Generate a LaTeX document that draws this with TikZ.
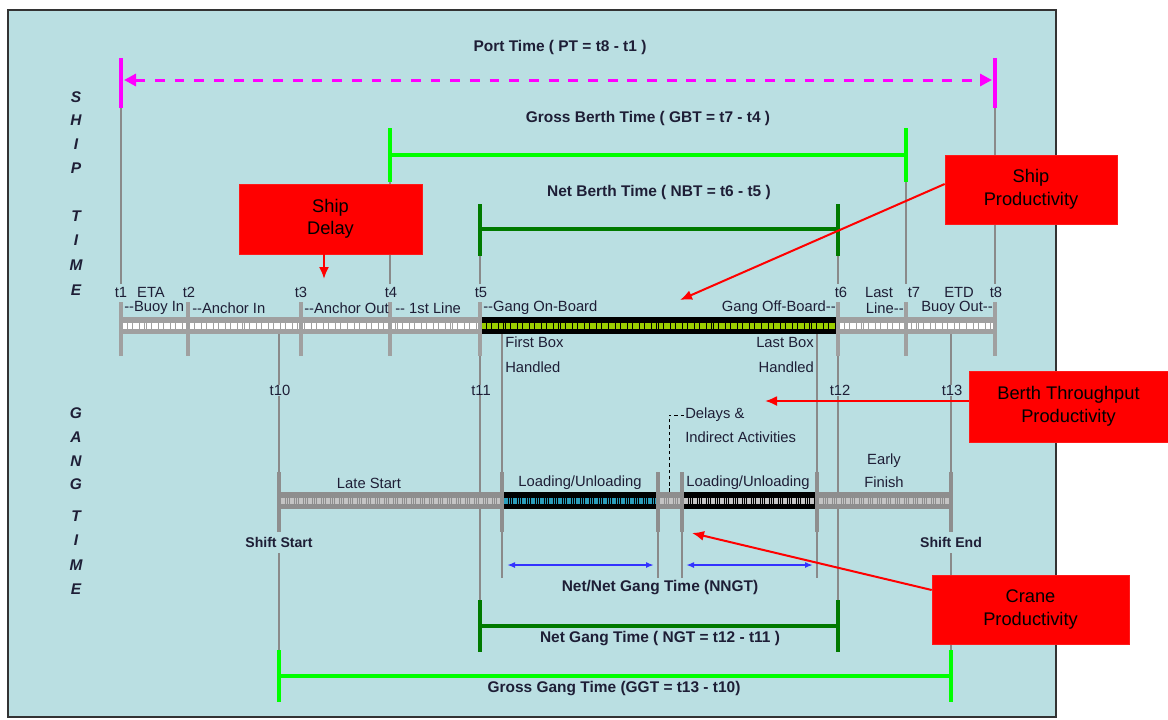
\documentclass[tikz,border=0pt]{standalone}
\usepackage{fontspec}
\setmainfont{Liberation Sans}
\usetikzlibrary{positioning, arrows.meta, calc}
\definecolor{panelblue}{HTML}{BADFE2}
\definecolor{inkblue}{HTML}{1E1E36}
\definecolor{portmag}{HTML}{FF00FF}
\definecolor{grossgreen}{HTML}{00FF00}
\definecolor{netgreen}{HTML}{007A00}
\definecolor{barfill}{HTML}{A0A0A0}
\definecolor{gangfill}{HTML}{8E8E8E}
\definecolor{ganglight}{HTML}{C4C4C4}
\definecolor{shipgreen}{HTML}{9ACD00}
\definecolor{loadcyan}{HTML}{2B9CBA}
\definecolor{guidegray}{HTML}{8A8A8A}

\begin{document}
\begin{tikzpicture}[x=0.025cm, y=-0.025cm,
    lbl/.style={font=\fontsize{10.5}{12}\selectfont, text=inkblue, inner sep=0pt},
    blbl/.style={font=\bfseries\fontsize{11}{13}\selectfont, text=inkblue, inner sep=0pt},
    sidelbl/.style={font=\bfseries\itshape\fontsize{11}{13}\selectfont, text=inkblue, inner sep=0pt},
    redbox/.style={fill=red, draw=red!90!white, inner sep=0pt, align=center,
      font=\fontsize{13}{16}\selectfont, text=black},
    guide/.style={draw=guidegray, line width=0.05cm},
    fineguide/.style={draw=guidegray, line width=0.035cm},
    tickbar/.style={draw=barfill, line width=0.1cm},
    redarrow/.style={draw=red, line width=0.05cm, -{Latex[length=0.3cm, width=0.25cm]}},
    blueline/.style={draw=blue!80!white, line width=0.04cm, {Latex[length=0.2cm]}-{Latex[length=0.2cm]}}]
  \useasboundingbox (0,0) rectangle (1168,719);
  % panel
  \fill[white] (0,0) rectangle (1168,719);
  \draw[fill=panelblue, draw=black!80, line width=0.04cm] (8,10) rectangle (1056,717);

  % side titles
  \foreach \c/\y in {S/97, H/120, I/144, P/168, T/216, I/240, M/265, E/290}
    \node[sidelbl] at (76,\y) {\c};
  \foreach \c/\y in {G/413, A/437, N/461, G/484, T/516, I/540, M/565, E/589}
    \node[sidelbl] at (76,\y) {\c};

  % time labels on the ship line
  \node[lbl] (t1) at (121,292) {t1};
  \node[lbl] (t2) at (189,292) {t2};
  \node[lbl] (t3) at (301,292) {t3};
  \node[lbl] (t4) at (391,292) {t4};
  \node[lbl] (t5) at (481,292) {t5};
  \node[lbl] (t6) at (841,292) {t6};
  \node[lbl] (t7) at (914,292) {t7};
  \node[lbl] (t8) at (996,292) {t8};
  \node[lbl] (eta) at (151,292) {ETA};
  \node[lbl] (last) at (879,292) {Last};
  \node[lbl] (etd) at (959,292) {ETD};
  % time labels on the gang line
  \node[lbl] (t10) at (280,390) {t10};
  \node[lbl] (t11) at (481,390) {t11};
  \node[lbl] (t12) at (840,390) {t12};
  \node[lbl] (t13) at (952,390) {t13};

  % Port Time
  \node[blbl] (pt) at (560,47) {Port Time ( PT = t8 - t1 )};
  \coordinate (pt-l) at (121,108);
  \coordinate (pt-r) at (995,108);
  \draw[guide] (pt-l) -- (121,284);
  \draw[guide] (pt-r) -- (995,284);
  \draw[portmag, line width=0.1cm] (121,58) -- (pt-l);
  \draw[portmag, line width=0.1cm] (995,58) -- (pt-r);
  \draw[portmag, line width=0.075cm, dash pattern=on 7pt off 7pt,
    {Triangle[length=0.3cm, width=0.3cm]}-{Triangle[length=0.3cm, width=0.3cm]}] (124,80) -- (992,80);

  % Gross Berth Time
  \node[blbl] (gbt) at (648,118) {Gross Berth Time ( GBT = t7 - t4 )};
  \draw[guide] (390,182) -- (390,284);
  \draw[guide] (906,182) -- (906,284);
  \draw[grossgreen, line width=0.12cm] (390,128) -- (390,182);
  \draw[grossgreen, line width=0.12cm] (906,128) -- (906,182);
  \draw[grossgreen, line width=0.12cm] (390,155) -- (906,155);

  % Net Berth Time
  \node[blbl] (nbt) at (659,192) {Net Berth Time ( NBT = t6 - t5 )};
  \draw[guide] (480,256) -- (480,284);
  \draw[guide] (838,256) -- (838,284);
  \draw[netgreen, line width=0.1cm] (480,204) -- (480,256);
  \draw[netgreen, line width=0.1cm] (838,204) -- (838,256);
  \draw[netgreen, line width=0.1cm] (480,229) -- (838,229);

  % ship bar
  \foreach \a/\b/\outer/\inner in {121/480/barfill/white, 480/838/black/shipgreen, 838/995/barfill/white} {
    \draw[\outer, line width=0.425cm] (\a,325.5) -- (\b,325.5);
    \draw[\inner, line width=0.15cm, dash pattern=on 1.4pt off 0.3pt] (\a+2,325.5) -- (\b-2,325.5);
  }
  \foreach \x in {121, 188, 301, 390, 480, 838, 906, 995}
    \draw[tickbar] (\x,302) -- (\x,356);
  \node[lbl, anchor=west] (buoyin) at (124,308) {-{}-Buoy In};
  \node[lbl, anchor=west] (anchorin) at (192,308) {-{}-Anchor In};
  \node[lbl, anchor=west] (anchorout) at (304,308) {-{}-Anchor Out};
  \node[lbl, anchor=west] (firstline) at (395,308) {-{}- 1st Line};
  \node[lbl, anchor=west] (gangon) at (483,308) {-{}-Gang On-Board};
  \node[lbl, anchor=east] (gangoff) at (836,308) {Gang Off-Board-{}-};
  \node[lbl, anchor=east] (line) at (904,308) {Line-{}-};
  \node[lbl, anchor=east] (buoyout) at (993,308) {Buoy Out-{}-};
  \node[lbl, anchor=west] (firstbox) at (505,342) {First Box};
  \node[lbl, anchor=west] (firsthand) at (505,367) {Handled};
  \node[lbl, anchor=east] (lastbox) at (814,342) {Last Box};
  \node[lbl, anchor=east] (lasthand) at (814,367) {Handled};

  % gang guides
  \draw[guide] (279,334) -- (279,0 |- t10.north);
  \draw[guide] (480,356) -- (480,0 |- t11.north);
  \draw[guide] (838,356) -- (838,0 |- t12.north);
  \draw[guide] (951,334) -- (951,0 |- t13.north);
  \draw[guide] (279,0 |- t10.south) -- (279,472);
  \draw[guide] (480,0 |- t11.south) -- (480,600);
  \draw[guide] (838,0 |- t12.south) -- (838,600);
  \draw[guide] (951,0 |- t13.south) -- (951,472);
  \draw[fineguide] (502,334) -- (502,578);
  \draw[fineguide] (817,334) -- (817,578);
  \draw[fineguide] (658,532) -- (658,578);
  \draw[fineguide] (682,532) -- (682,578);

  % gang bar
  \foreach \a/\b/\outer/\inner in {279/502/gangfill/ganglight, 502/658/black/loadcyan,
      658/682/gangfill/ganglight, 682/817/black/ganglight, 817/951/gangfill/ganglight} {
    \draw[\outer, line width=0.425cm] (\a,500.5) -- (\b,500.5);
    \draw[\inner, line width=0.15cm, dash pattern=on 1.1pt off 0.5pt] (\a+2,500.5) -- (\b-2,500.5);
  }
  \foreach \x in {279, 502, 658, 682, 817, 951}
    \draw[tickbar, draw=gangfill] (\x,472) -- (\x,532);
  \node[lbl] (late) at (369,483) {Late Start};
  \node[lbl] (load1) at (580,483) {Loading/Unloading};
  \node[lbl] (load2) at (748,483) {Loading/Unloading};
  \node[lbl] (early) at (884,461) {Early};
  \node[lbl] (finish) at (884,482) {Finish};
  \node[blbl, font=\bfseries\fontsize{10}{12}\selectfont] (sstart) at (279,542) {Shift Start};
  \node[blbl, font=\bfseries\fontsize{10}{12}\selectfont] (send) at (951,542) {Shift End};
  \draw[guide] ([yshift=-0.15cm]sstart.south) -- (279,650);
  \draw[guide] ([yshift=-0.15cm]send.south) -- (951,650);

  % delays
  \node[lbl, anchor=west] (delays) at (685,415) {Delays \&};
  \node[lbl, anchor=west] (indirect) at (685,437) {Indirect Activities};
  \draw[black, line width=0.025cm, dash pattern=on 2.5pt off 2pt] (669,492) |- (delays.west);

  % Net/Net Gang Time
  \draw[blueline] (507,565) -- (654,565);
  \draw[blueline] (686,565) -- (813,565);
  \node[blbl] (nngt) at (660,588) {Net/Net Gang Time (NNGT)};

  % Net Gang Time
  \draw[netgreen, line width=0.1cm] (480,600) -- (480,652);
  \draw[netgreen, line width=0.1cm] (838,600) -- (838,652);
  \draw[netgreen, line width=0.1cm] (480,626) -- (838,626);
  \node[blbl] (ngt) at (660,639) {Net Gang Time ( NGT = t12 - t11 )};

  % Gross Gang Time
  \draw[grossgreen, line width=0.12cm] (279,650) -- (279,702);
  \draw[grossgreen, line width=0.12cm] (951,650) -- (951,702);
  \draw[grossgreen, line width=0.12cm] (279,676) -- (951,676);
  \node[blbl] (ggt) at (614,689) {Gross Gang Time (GGT = t13 - t10)};

  % callouts
  \node[redbox, minimum width=4.575cm, minimum height=1.75cm] (delay) at (330.5,219) {Ship\\Delay};
  \node[redbox, minimum width=4.3cm, minimum height=1.725cm] (sprod) at (1031,189.5) {Ship\\Productivity};
  \node[redbox, minimum width=4.975cm, minimum height=1.775cm] (berth) at (1068.5,406.5) {Berth Throughput\\Productivity};
  \node[redbox, minimum width=4.925cm, minimum height=1.725cm] (crane) at (1030.5,609.5) {Crane\\Productivity};
  \coordinate (delay-tip) at (324,279);
  \coordinate (sprod-tip) at (680,300);
  \coordinate (berth-tip) at (765,401);
  \coordinate (crane-tip) at (692,533);
  \draw[redarrow] (delay.south -| delay-tip) -- (delay-tip);
  \draw[redarrow] (sprod.west |- 0,184) -- (sprod-tip);
  \draw[redarrow] (berth.west |- berth-tip) -- (berth-tip);
  \draw[redarrow] (crane.west |- 0,590) -- (crane-tip);
\end{tikzpicture}
\end{document}
